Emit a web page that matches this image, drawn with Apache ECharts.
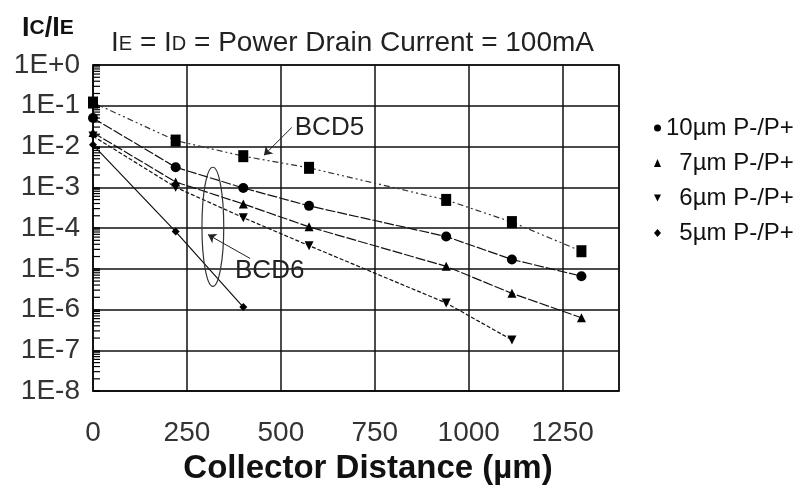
<!DOCTYPE html>
<html>
<head>
<meta charset="utf-8">
<script src="https://cdn.jsdelivr.net/npm/echarts@6/dist/echarts.min.js"></script>
<style>
  html, body { margin: 0; padding: 0; background: #fff; }
  #chart { width: 801px; height: 490px; }
</style>
</head>
<body>
<div id="chart"></div>
<script>
// collector distance (um) of each measurement
const xDist = [0, 220, 400, 575, 940, 1115, 1300];

// Ic/Ie ratios
const bcd5 = [0.12, 0.014, 0.0058, 0.0030, 4.9e-4, 1.4e-4, 2.7e-5];
const um10 = [0.05, 3.1e-3, 9.6e-4, 3.5e-4, 6.2e-5, 1.7e-5, 6.6e-6];
const um7 = [0.022, 1.35e-3, 3.9e-4, 1.07e-4, 1.15e-5, 2.5e-6, 6.3e-7];
const um6 = [0.018, 1.0e-3, 1.8e-4, 3.7e-5, 1.45e-6, 1.8e-7];
const um5 = [0.011, 8.2e-5, 1.15e-6];

const seriesNames = ['10µm P-/P+', '7µm P-/P+', '6µm P-/P+', '5µm P-/P+'];
const yTickLabels = ['1E-8', '1E-7', '1E-6', '1E-5', '1E-4', '1E-3', '1E-2', '1E-1', '1E+0'];

// annotations (data coordinates)
const noteLabels = ['BCD5', 'BCD6'];
const noteX = [537, 378];
const noteY = [0.0293, 8.7e-6];
const arrows = [
  [[529, 0.0293], [455, 6.1e-3]],
  [[418, 1.8e-5], [306, 6.9e-5]]
];
const oval = [[290, 3.1e-3, 348, 3.7e-6]];

const FONT = "'Liberation Sans', Arial, sans-serif";

const pairs = (ys) => ys.map((y, i) => [xDist[i], y]);

// log minor ticks 2..9 x 10^n on the y axis
const minorTicks = [];
for (let e = -8; e < 0; e++) {
  for (let k = 2; k <= 9; k++) minorTicks.push([0, k * Math.pow(10, e)]);
}

const chart = echarts.init(document.getElementById('chart'));

const lineBase = (name, data, symbol, size, dash, rotate) => ({
  name: name,
  type: 'line',
  data: data,
  symbol: symbol,
  symbolSize: size,
  symbolRotate: rotate || 0,
  itemStyle: { color: '#000' },
  lineStyle: { color: '#111', width: 1.2, type: dash },
  z: 3
});

const option = {
  animation: false,
  backgroundColor: '#fff',
  textStyle: { fontFamily: FONT },
  title: [
    {
      left: 17,
      top: 10,
      text: '{b|I}{s|C}{b|/I}{s|E}',
      textStyle: {
        rich: {
          b: { fontSize: 27, fontWeight: 'bold', color: '#111', fontFamily: FONT, verticalAlign: 'bottom' },
          s: { fontSize: 21, fontWeight: 'bold', color: '#111', fontFamily: FONT, verticalAlign: 'bottom', padding: [0, 0, 3, 0] }
        }
      }
    },
    {
      left: 106,
      top: 24,
      text: '{b|I}{s|E}{b| = I}{s|D}{b| = Power Drain Current = 100mA}',
      textStyle: {
        fontWeight: 'normal',
        rich: {
          b: { fontSize: 28, fontWeight: 'normal', color: '#222', fontFamily: FONT, verticalAlign: 'bottom' },
          s: { fontSize: 20, fontWeight: 'normal', color: '#222', fontFamily: FONT, verticalAlign: 'bottom', padding: [0, 0, 3, 0] }
        }
      }
    }
  ],
  legend: {
    orient: 'vertical',
    left: 649,
    top: 111,
    itemWidth: 7,
    itemHeight: 8,
    itemGap: 11,
    selectedMode: false,
    textStyle: { fontSize: 24, color: '#111', fontFamily: FONT },
    formatter: (n) => (n.indexOf('10') === 0 ? n : '  ' + n),
    data: [
      { name: seriesNames[0], icon: 'circle' },
      { name: seriesNames[1], icon: 'triangle' },
      { name: seriesNames[2], icon: 'path://M0,0L10,0L5,10Z' },
      { name: seriesNames[3], icon: 'diamond' }
    ]
  },
  grid: {
    left: 93,
    right: 182,
    top: 65,
    bottom: 96,
    show: true,
    borderColor: '#111',
    borderWidth: 1.5
  },
  xAxis: {
    type: 'value',
    min: 0,
    max: 1400,
    interval: 250,
    name: 'Collector Distance (µm)',
    nameLocation: 'middle',
    nameGap: 58,
    nameTextStyle: { fontSize: 33, fontWeight: 'bold', color: '#111', fontFamily: FONT, padding: [0, 0, 0, 24] },
    axisLine: { lineStyle: { color: '#111', width: 1.5 } },
    axisTick: { show: false },
    axisLabel: {
      fontSize: 28,
      color: '#333',
      margin: 28,
      showMaxLabel: false,
      fontFamily: FONT,
      formatter: (v) => String(v)
    },
    splitLine: { show: true, lineStyle: { color: '#111', width: 1.5 } }
  },
  yAxis: {
    type: 'log',
    logBase: 10,
    min: 1e-8,
    max: 1,
    splitNumber: 8,
    axisLine: { show: true, lineStyle: { color: '#111', width: 1.5 } },
    axisTick: { show: true, inside: true, length: 7, lineStyle: { color: '#000', width: 1.5 } },
    axisLabel: {
      fontSize: 28,
      color: '#333',
      margin: 13,
      fontFamily: FONT,
      formatter: (v) => yTickLabels[Math.round(Math.log10(v)) + 8]
    },
    splitLine: { show: true, lineStyle: { color: '#111', width: 1.5 } }
  },
  series: [
    {
      name: 'minorTicks',
      type: 'custom',
      silent: true,
      data: minorTicks,
      encode: { x: 0, y: 1 },
      z: 2,
      renderItem: (params, api) => {
        const p = api.coord([api.value(0), api.value(1)]);
        return {
          type: 'line',
          shape: { x1: p[0], y1: p[1], x2: p[0] + 7, y2: p[1] },
          style: { stroke: '#000', lineWidth: 1.2 }
        };
      }
    },
    Object.assign(lineBase('BCD5', pairs(bcd5), 'rect', [10, 12], [6, 3, 2, 3, 2, 3]), {
      lineStyle: { color: '#333', width: 1.2, type: [6, 3, 2, 3, 2, 3] },
      markLine: {
        silent: true,
        symbol: ['none', 'arrow'],
        symbolSize: 8,
        label: { show: false },
        lineStyle: { color: '#222', width: 1, type: 'solid' },
        data: arrows.map((a) => [{ coord: a[0] }, { coord: a[1] }])
      }
    }),
    lineBase(seriesNames[0], pairs(um10), 'circle', 10, [10, 2]),
    lineBase(seriesNames[1], pairs(um7), 'triangle', 9, [10, 2]),
    lineBase(seriesNames[2], pairs(um6), 'triangle', 9, [4, 2], 180),
    lineBase(seriesNames[3], pairs(um5), 'diamond', 8, 'solid'),
    {
      name: 'notes',
      type: 'custom',
      silent: true,
      data: noteLabels.map((t, i) => [noteX[i], noteY[i]]),
      encode: { x: 0, y: 1 },
      z: 4,
      renderItem: (params, api) => {
        const p = api.coord([api.value(0), api.value(1)]);
        return {
          type: 'text',
          x: p[0],
          y: p[1],
          style: {
            text: noteLabels[params.dataIndex],
            fill: '#222',
            fontSize: 26,
            fontFamily: FONT,
            align: 'left',
            verticalAlign: 'middle'
          }
        };
      }
    },
    {
      name: 'oval',
      type: 'custom',
      silent: true,
      data: oval,
      encode: { x: [0, 2], y: [1, 3] },
      z: 4,
      renderItem: (params, api) => {
        const a = api.coord([api.value(0), api.value(1)]);
        const b = api.coord([api.value(2), api.value(3)]);
        return {
          type: 'ellipse',
          shape: {
            cx: (a[0] + b[0]) / 2,
            cy: (a[1] + b[1]) / 2,
            rx: Math.abs(b[0] - a[0]) / 2,
            ry: Math.abs(b[1] - a[1]) / 2
          },
          style: { fill: 'none', stroke: '#333', lineWidth: 1.2 }
        };
      }
    }
  ]
};

chart.setOption(option);
</script>
</body>
</html>
